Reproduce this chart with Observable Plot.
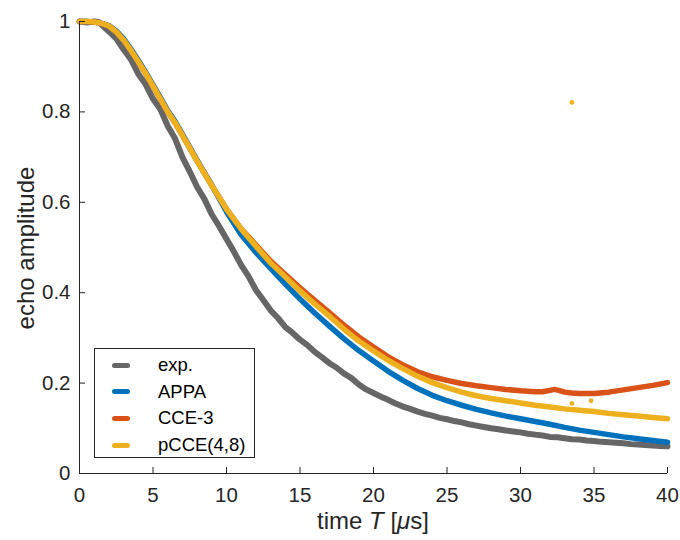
<!DOCTYPE html>
<html><head><meta charset="utf-8">
<script src="https://cdn.jsdelivr.net/npm/d3@7"></script>
<script src="https://cdn.jsdelivr.net/npm/@observablehq/plot@0.6"></script>
<style>
body{margin:0;background:#fff;}
#wrap{position:relative;width:680px;height:540px;font-family:"Liberation Sans",Arial,sans-serif;color:#262626;}
#xlabel{position:absolute;left:373px;top:507px;transform:translateX(-50%);white-space:nowrap;font-size:24px;line-height:28px;}
#ylabel{position:absolute;left:26px;top:248px;font-size:24px;white-space:nowrap;transform:translate(-50%,-50%) rotate(-90deg);}
#legend{position:absolute;left:94px;top:348px;width:161px;height:110px;border:1px solid #262626;background:#fff;box-sizing:border-box;}
.lrow{position:absolute;left:0;height:26px;width:100%;}
.lsw{position:absolute;left:17px;top:10.5px;width:18px;height:5px;border-radius:2.5px;}
.ltx{position:absolute;left:63px;top:0;line-height:26px;font-size:18.5px;color:#000;}
</style></head><body><div id="wrap"></div>
<script>
// ---- data ----
const seriesNames = ["exp.", "APPA", "CCE-3", "pCCE(4,8)"];
const seriesColors = ["#666666", "#0072BD", "#D95319", "#EDB120"];

const tExp = [0,0.5,1,1.3,1.5,2,2.5,3,3.5,4,4.5,5,5.5,6,6.5,7,7.5,8,8.5,9,9.5,10,10.5,11,11.5,12,12.5,13,13.5,14,14.5,15,15.5,16,16.5,17,17.5,18,18.5,19,19.5,20,20.5,21,21.5,22,22.5,23,23.5,24,24.5,25,25.5,26,26.5,27,27.5,28,28.5,29,29.5,30,30.5,31,31.5,32,32.5,33,33.5,34,34.5,35,35.5,36,36.5,37,37.5,38,38.5,39,39.5,40];
const vExp = [1.0,0.998,1.0,0.999,0.993,0.978,0.962,0.938,0.916,0.884,0.861,0.829,0.806,0.769,0.741,0.700,0.668,0.634,0.607,0.573,0.547,0.519,0.491,0.461,0.436,0.406,0.384,0.361,0.344,0.324,0.311,0.296,0.284,0.269,0.257,0.244,0.234,0.221,0.211,0.197,0.186,0.178,0.170,0.163,0.155,0.148,0.143,0.137,0.132,0.128,0.123,0.120,0.116,0.113,0.109,0.106,0.103,0.100,0.098,0.095,0.093,0.091,0.088,0.086,0.084,0.081,0.080,0.078,0.076,0.075,0.073,0.072,0.070,0.069,0.068,0.067,0.065,0.064,0.063,0.062,0.061,0.060];

const tSim = [0,0.5,1,1.5,2,2.5,3,3.5,4,4.5,5,5.5,6,6.5,7,7.5,8,9,10,11,12,13,14,15,16,17,18,19,20,21,22,23,24,25,26,27,28,29,30,31,32,33,34,35,36,37,38,39,40];
const vAPPA = [1.0,1.0,0.999,0.996,0.991,0.979,0.962,0.939,0.914,0.888,0.860,0.832,0.803,0.779,0.751,0.722,0.693,0.638,0.579,0.528,0.489,0.454,0.419,0.386,0.355,0.326,0.298,0.272,0.249,0.226,0.206,0.188,0.173,0.161,0.151,0.142,0.134,0.127,0.121,0.115,0.109,0.102,0.096,0.091,0.086,0.081,0.077,0.073,0.069];
const vPCCE = [1.0,1.0,0.999,0.996,0.990,0.977,0.959,0.936,0.911,0.885,0.857,0.829,0.800,0.776,0.748,0.720,0.691,0.637,0.585,0.541,0.503,0.466,0.435,0.404,0.375,0.348,0.319,0.293,0.271,0.250,0.232,0.215,0.201,0.190,0.180,0.172,0.166,0.161,0.156,0.151,0.147,0.143,0.140,0.137,0.133,0.130,0.127,0.124,0.121];

const tCCE = [0,0.5,1,1.5,2,2.5,3,3.5,4,4.5,5,5.5,6,6.5,7,7.5,8,9,10,11,12,13,14,15,16,17,18,19,20,21,22,23,24,25,26,27,28,29,30,31,31.5,32,32.3,32.6,33,33.5,34,35,36,37,38,39,40];
const vCCE = [1.0,1.0,0.999,0.996,0.990,0.977,0.959,0.936,0.911,0.885,0.857,0.829,0.800,0.776,0.748,0.720,0.691,0.637,0.585,0.541,0.506,0.470,0.440,0.411,0.383,0.356,0.328,0.302,0.280,0.258,0.240,0.225,0.214,0.206,0.199,0.194,0.190,0.186,0.183,0.181,0.181,0.184,0.186,0.184,0.180,0.178,0.177,0.177,0.180,0.185,0.190,0.195,0.201];

// isolated pCCE points
const tPCCEout = [33.5, 33.5, 34.8];
const vPCCEout = [0.821, 0.155, 0.161];

const xTicks = [0,5,10,15,20,25,30,35,40];
const yTicks = [0,0.2,0.4,0.6,0.8,1];

// ---- build ----
const zip = (t, v) => t.map((d, i) => ({t: d, v: v[i]}));
const dExp = zip(tExp, vExp), dAPPA = zip(tSim, vAPPA), dCCE = zip(tCCE, vCCE), dPCCE = zip(tSim, vPCCE), dOut = zip(tPCCEout, vPCCEout);

const W = 680, H = 540, mL = 79, mR = 13, mT = 21, mB = 67;
const axisColor = "#262626";
const lineOpts = (c, w) => ({x: "t", y: "v", stroke: c, strokeWidth: w, strokeLinecap: "round", strokeLinejoin: "round"});

const chart = Plot.plot({
  width: W, height: H,
  marginLeft: mL, marginRight: mR, marginTop: mT, marginBottom: mB,
  style: {fontFamily: "'Liberation Sans', Arial, sans-serif", fontSize: "20.5px", color: axisColor, background: "white"},
  x: {domain: [0, 40]},
  y: {domain: [0, 1]},
  marks: [
    Plot.axisX(xTicks, {tickSize: 0, tickPadding: 14, label: null, tickFormat: d => String(d)}),
    Plot.axisY(yTicks, {tickSize: 0, tickPadding: 9, label: null, tickFormat: d => String(d)}),
    Plot.line(dExp, lineOpts(seriesColors[0], 6)),
    Plot.line(dAPPA, lineOpts(seriesColors[1], 5.5)),
    Plot.line(dCCE, lineOpts(seriesColors[2], 5.5)),
    Plot.line(dPCCE, lineOpts(seriesColors[3], 5.5)),
    Plot.dot(dOut, {x: "t", y: "v", r: 2.4, fill: seriesColors[3], stroke: null}),
    Plot.ruleX([0], {stroke: axisColor}),
    Plot.ruleY([0], {stroke: axisColor}),
    Plot.tickX(xTicks, {x: d => d, stroke: axisColor, insetTop: H - mT - mB - 6}),
    Plot.tickY(yTicks, {y: d => d, stroke: axisColor, insetRight: W - mL - mR - 6})
  ]
});

const wrap = document.getElementById("wrap");
wrap.appendChild(chart);

const xl = document.createElement("div");
xl.id = "xlabel";
xl.innerHTML = "time <i>T</i> [<i>&mu;</i>s]";
wrap.appendChild(xl);

const yl = document.createElement("div");
yl.id = "ylabel";
yl.textContent = "echo amplitude";
wrap.appendChild(yl);

const lg = document.createElement("div");
lg.id = "legend";
seriesNames.forEach((name, i) => {
  const row = document.createElement("div");
  row.className = "lrow";
  row.style.top = (3 + i * 26.7) + "px";
  const sw = document.createElement("div");
  sw.className = "lsw";
  sw.style.background = seriesColors[i];
  const tx = document.createElement("div");
  tx.className = "ltx";
  tx.textContent = name;
  row.appendChild(sw); row.appendChild(tx);
  lg.appendChild(row);
});
wrap.appendChild(lg);
</script>
</body></html>
